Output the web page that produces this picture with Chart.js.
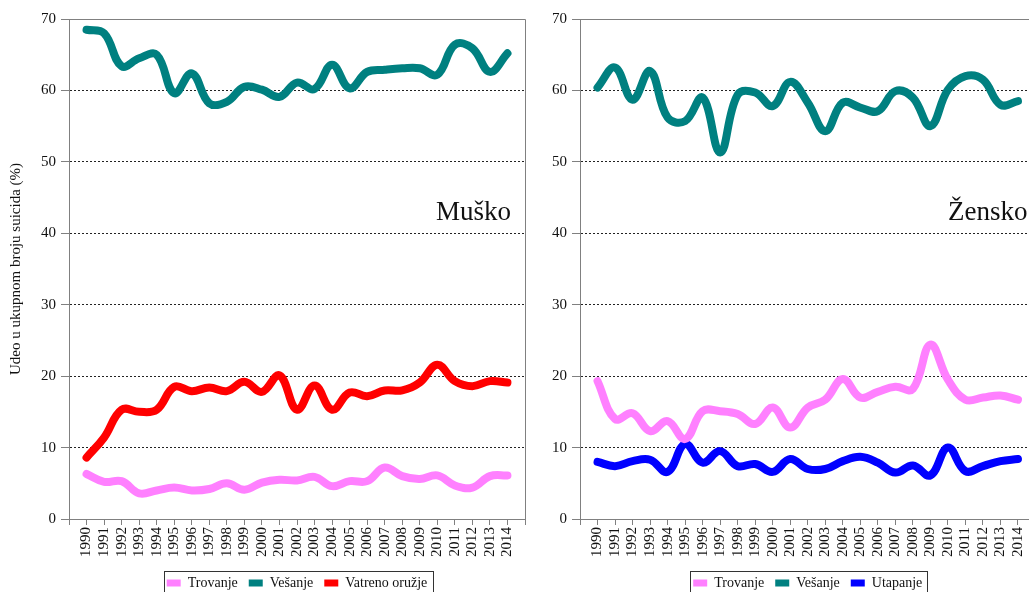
<!DOCTYPE html>
<html>
<head>
<meta charset="utf-8">
<script src="https://cdn.jsdelivr.net/npm/chart.js@4.4.0/dist/chart.umd.min.js"></script>
<style>
  html, body { margin: 0; padding: 0; background: #fff; width: 1029px; height: 592px; overflow: hidden; position: relative; }
  #wl { position: absolute; left: 0; top: 0; width: 530px; height: 600px; }
  #wr { position: absolute; left: 530px; top: 0; width: 557px; height: 600px; }
</style>
</head>
<body>
<div id="wl"><canvas id="cl"></canvas></div>
<div id="wr"><canvas id="cr"></canvas></div>
<script>
// ---------- data ----------
const years = [1990,1991,1992,1993,1994,1995,1996,1997,1998,1999,2000,2001,2002,2003,2004,2005,2006,2007,2008,2009,2010,2011,2012,2013,2014];
const yTicks = [0,10,20,30,40,50,60,70];

// Muško (male)
const maleTrovanje = [6.3,5.2,5.3,3.6,4.0,4.4,4.0,4.2,5.0,4.1,5.1,5.5,5.4,5.9,4.6,5.3,5.3,7.2,6.0,5.6,6.1,4.7,4.4,6.0,6.1];
const maleVesanje  = [68.5,68.0,63.4,64.5,65.0,59.6,62.4,58.2,58.4,60.5,60.1,59.1,61.1,60.2,63.6,60.3,62.6,62.9,63.1,63.1,62.2,66.4,65.9,62.6,65.2];
const maleVatreno  = [8.6,11.4,15.3,15.0,15.3,18.5,17.9,18.4,17.9,19.2,17.8,20.1,15.3,18.7,15.3,17.7,17.2,18.0,18.0,19.1,21.6,19.3,18.6,19.3,19.1];

// Žensko (female)
const femTrovanje = [19.3,14.0,14.8,12.3,13.7,11.2,15.1,15.1,14.7,13.3,15.6,12.8,15.6,16.7,19.6,17.0,17.8,18.5,18.2,24.4,19.5,16.7,17.0,17.3,16.7];
const femVesanje  = [60.4,63.2,58.7,62.7,56.2,55.7,59.0,51.3,59.4,59.7,57.8,61.2,58.3,54.3,58.3,57.6,57.1,59.9,59.0,55.0,60.1,62.0,61.5,58.0,58.5];
const femUtapanje = [8.0,7.4,8.1,8.3,6.6,10.5,7.9,9.5,7.4,7.7,6.6,8.4,7.0,7.0,8.1,8.7,7.9,6.5,7.5,6.1,10.0,6.7,7.4,8.1,8.4];

const labelsMale = ['Trovanje','Vešanje','Vatreno oružje'];
const labelsFem  = ['Trovanje','Vešanje','Utapanje'];
const yTitle = 'Udeo u ukupnom broju suicida (%)';

// ---------- styling ----------
const FONT = 'Liberation Serif';
const C_PINK = '#FF80FF', C_TEAL = '#008080', C_RED = '#FF0000', C_BLUE = '#0000FF';
const AXIS = '#808080';

function pts(arr) { return arr.map((v, i) => ({ x: years[i], y: v })); }
function ds(label, arr, color) {
  return { label, data: pts(arr), borderColor: color, backgroundColor: color,
    borderWidth: 8, pointRadius: 0, pointHoverRadius: 0, tension: 0.4, fill: false,
    borderCapStyle: 'round', borderJoinStyle: 'round' };
}

const framePlugin = {
  id: 'frame',
  afterDraw(chart, args, opts) {
    const { ctx, chartArea: a, scales } = chart;
    ctx.save();
    ctx.strokeStyle = AXIS; ctx.lineWidth = 1;
    ctx.beginPath();
    ctx.moveTo(Math.round(a.left) + 0.5, Math.round(a.top) + 0.5);
    ctx.lineTo(Math.round(a.right) + 0.5, Math.round(a.top) + 0.5);
    ctx.lineTo(Math.round(a.right) + 0.5, Math.round(a.bottom) + 0.5);
    ctx.stroke();
    ctx.fillStyle = '#111';
    ctx.font = '27px "' + FONT + '"';
    ctx.textAlign = 'right'; ctx.textBaseline = 'alphabetic';
    ctx.fillText(opts.text, a.right - opts.dx, scales.y.getPixelForValue(41.9));
    const lg = chart.legend;
    if (lg && lg.legendHitBoxes && lg.legendHitBoxes.length) {
      const hb = lg.legendHitBoxes;
      let l = Infinity, r = -Infinity, t = Infinity, b = -Infinity;
      hb.forEach(h => { l = Math.min(l, h.left); r = Math.max(r, h.left + h.width); t = Math.min(t, h.top); b = Math.max(b, h.top + h.height); });
      ctx.strokeStyle = '#333'; ctx.lineWidth = 1;
      ctx.strokeRect(Math.round(l - 3) + 0.5, Math.round(t - 5) + 0.5, Math.round(r - l + 8), Math.round(b - t + 16));
    }
    ctx.restore();
  }
};

function makeChart(id, labels, series, colors, opts) {
  const datasets = series.map((s, i) => ds(labels[i], s, colors[i]));
  return new Chart(document.getElementById(id), {
    type: 'line',
    data: { datasets },
    plugins: [framePlugin],
    options: {
      responsive: true, maintainAspectRatio: false, animation: false,
      events: [],
      layout: { padding: { left: 0, right: opts.padRight, top: 19, bottom: 0 } },
      plugins: {
        tooltip: { enabled: false },
        frame: { text: opts.text, dx: opts.dx },
        legend: {
          position: 'bottom',
          fullSize: false,
          labels: {
            boxWidth: 14, boxHeight: 7, padding: 11, color: '#111',
            font: { family: FONT, size: 14 },
            generateLabels(chart) {
              return chart.data.datasets.map((d, i) => ({
                text: d.label, fillStyle: d.borderColor, strokeStyle: d.borderColor,
                lineWidth: 0, hidden: false, datasetIndex: i, fontColor: '#111'
              }));
            }
          }
        }
      },
      scales: {
        x: {
          type: 'linear', min: years[0] - 1, max: years[years.length - 1] + 1,
          afterFit(s) { s.height = 46; s.paddingLeft = 0; s.paddingRight = 0; },
          afterBuildTicks(s) { s.ticks = []; for (let v = s.min; v <= s.max; v++) s.ticks.push({ value: v }); },
          ticks: {
            autoSkip: false, minRotation: 90, maxRotation: 90, padding: 2, color: '#111',
            font: { family: FONT, size: 15 },
            callback: (v) => (years.includes(v) ? String(v) : '')
          },
          grid: { drawOnChartArea: false, drawTicks: true, tickLength: 6, tickColor: AXIS },
          border: { display: true, color: AXIS, width: 1 }
        },
        y: {
          min: yTicks[0], max: yTicks[yTicks.length - 1],
          afterFit(s) { s.width = opts.yWidth; s.paddingTop = 0; s.paddingBottom = 0; },
          afterBuildTicks(s) { s.ticks = yTicks.map(v => ({ value: v })); },
          ticks: { padding: 5, color: '#111', font: { family: FONT, size: 15 }, callback: v => String(v) },
          grid: {
            color: c => (c.tick && (c.tick.value === yTicks[0] || c.tick.value === yTicks[yTicks.length - 1])) ? 'rgba(0,0,0,0)' : '#222',
            lineWidth: 1, drawTicks: true, tickLength: 8, tickColor: AXIS, tickBorderDash: [],
            borderDash: [2, 2]
          },
          border: { display: true, color: AXIS, width: 1, dash: [2, 2] },
          title: opts.title ? { display: true, text: opts.title, color: '#111', font: { family: FONT, size: 15 }, padding: { top: 7, bottom: 0 } } : { display: false }
        }
      }
    }
  });
}

makeChart('cl', labelsMale, [maleTrovanje, maleVesanje, maleVatreno], [C_PINK, C_TEAL, C_RED],
  { padRight: 5, yWidth: 69, title: yTitle, text: 'Muško', dx: 14 });
makeChart('cr', labelsFem, [femTrovanje, femVesanje, femUtapanje], [C_PINK, C_TEAL, C_BLUE],
  { padRight: 51.5, yWidth: 50, title: null, text: 'Žensko', dx: 8 });
</script>
</body>
</html>
